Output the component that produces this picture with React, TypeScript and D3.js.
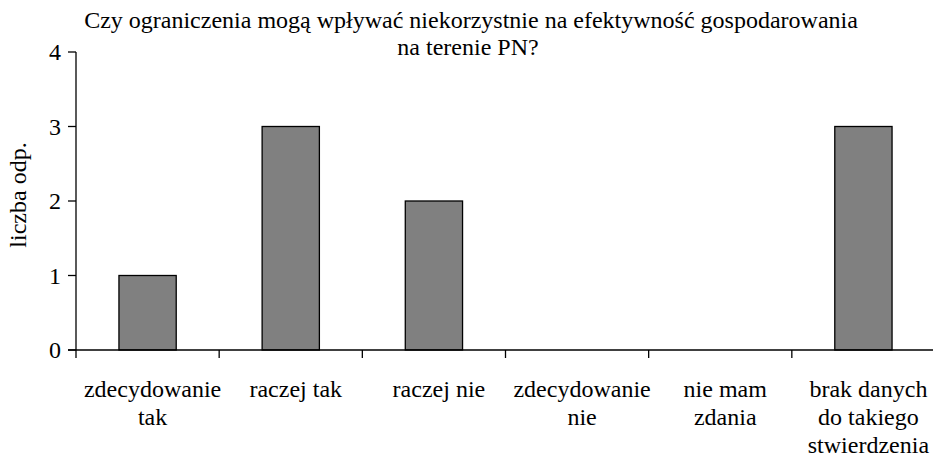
import * as d3 from "d3";

const categories = [
  ["zdecydowanie", "tak"],
  ["raczej tak"],
  ["raczej nie"],
  ["zdecydowanie", "nie"],
  ["nie mam", "zdania"],
  ["brak danych", "do takiego", "stwierdzenia"],
];
const values = [1, 3, 2, 0, 0, 3];
const yTicks = [0, 1, 2, 3, 4];
const titleLines = [
  "Czy ograniczenia mogą wpływać niekorzystnie na efektywność gospodarowania",
  "na terenie PN?",
];
const yLabel = "liczba odp.";

const W = 933;
const H = 458;
const font = "Liberation Serif";
const fs = 24;

export default function App() {
  const keys = categories.map((c) => c.join(" "));
  const x = d3.scaleBand<string>().domain(keys).range([76, 935]);
  const y = d3.scaleLinear().domain([0, 4]).range([350, 52]);
  const bw = x.bandwidth() * 0.4;

  return (
    <svg
      width={W}
      height={H}
      fontFamily={font}
      fontSize={fs}
      style={{ position: "absolute", left: 0, top: 0 }}
    >
      <rect width={W} height={H} fill="#fff" />
      {/* tytuł */}
      <text x={471} y={28} textAnchor="middle">
        {titleLines[0]}
      </text>
      <text x={468} y={55} textAnchor="middle">
        {titleLines[1]}
      </text>

      {/* słupki */}
      {values.map((v, i) => {
        const cx = x(keys[i])! + x.bandwidth() / 2;
        return v > 0 ? (
          <rect
            key={i}
            x={cx - bw / 2}
            y={y(v)}
            width={bw}
            height={y(0) - y(v)}
            fill="#808080"
            stroke="#000"
            strokeWidth={1.3}
          />
        ) : null;
      })}

      {/* oś Y */}
      <line x1={76} x2={76} y1={y(4)} y2={y(0)} stroke="#000" strokeWidth={1.3} />
      {yTicks.map((t) => (
        <g key={t}>
          <line x1={68} x2={76} y1={y(t)} y2={y(t)} stroke="#000" strokeWidth={1.3} />
          <text x={61} y={y(t)} dy="0.35em" textAnchor="end">
            {t}
          </text>
        </g>
      ))}
      <text
        transform={`translate(26,${195}) rotate(-90)`}
        textAnchor="middle"
      >
        {yLabel}
      </text>

      {/* oś X */}
      <line x1={68} x2={W} y1={y(0)} y2={y(0)} stroke="#000" strokeWidth={1.3} />
      {keys.map((k) => (
        <line
          key={k}
          x1={x(k)!}
          x2={x(k)!}
          y1={y(0)}
          y2={y(0) + 8}
          stroke="#000"
          strokeWidth={1.3}
        />
      ))}
      {categories.map((lines, i) => {
        const cx = x(keys[i])! + x.bandwidth() / 2 + 5;
        return (
          <text key={i} textAnchor="middle">
            {lines.map((l, j) => (
              <tspan key={j} x={cx} y={397 + j * 28}>
                {l}
              </tspan>
            ))}
          </text>
        );
      })}
    </svg>
  );
}
